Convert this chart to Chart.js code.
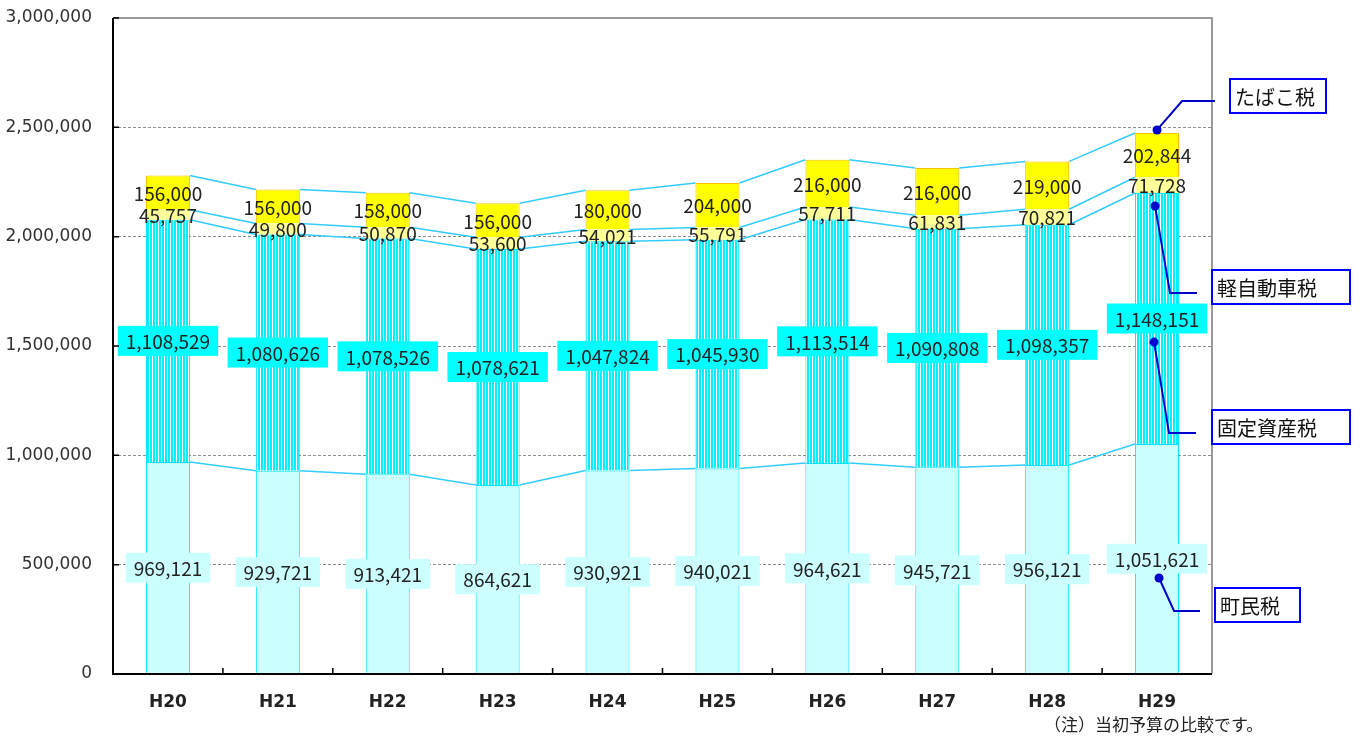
<!DOCTYPE html>
<html lang="ja">
<head>
<meta charset="utf-8">
<title>町税の推移</title>
<script src="https://cdn.jsdelivr.net/npm/chart.js@4.4.0/dist/chart.umd.min.js"></script>
<style>
  html, body { margin: 0; padding: 0; background: #fff; }
  #wrap { position: relative; width: 1360px; height: 738px; }
</style>
</head>
<body>
<div id="wrap"><canvas id="taxChart"></canvas></div>
<script>
// Data (千円)
const categories = ['H20', 'H21', 'H22', 'H23', 'H24', 'H25', 'H26', 'H27', 'H28', 'H29'];
const chominzei = [969121, 929721, 913421, 864621, 930921, 940021, 964621, 945721, 956121, 1051621];
const koteishisanzei = [1108529, 1080626, 1078526, 1078621, 1047824, 1045930, 1113514, 1090808, 1098357, 1148151];
const keijidoshazei = [45757, 49800, 50870, 53600, 54021, 55791, 57711, 61831, 70821, 71728];
const tabakozei = [156000, 156000, 158000, 156000, 180000, 204000, 216000, 216000, 219000, 202844];
const yTicks = [0, 500000, 1000000, 1500000, 2000000, 2500000, 3000000];
const footnote = '（注）当初予算の比較です。';

const numFont = '19px "Noto Sans CJK JP", "DejaVu Sans", sans-serif';
const jpFont = '20px "Noto Sans CJK JP", sans-serif';

// vertical stripe fill for 固定資産税
function stripePattern() {
    const c = document.createElement('canvas');
    c.width = 3; c.height = 8;
    const g = c.getContext('2d');
    g.fillStyle = '#ffffff';
    g.fillRect(0, 0, 3, 8);
    g.fillStyle = '#00f0ff';
    g.fillRect(0, 0, 2, 8);
    return g.createPattern(c, 'repeat');
}

// label style per dataset
const labelStyles = [
    { bg: '#ccffff' },
    { bg: '#00ffff' },
    { bg: null },
    { bg: null }
];

// series lines between bars + data labels
const seriesLabels = {
    id: 'seriesLabels',
    afterDatasetsDraw(chart) {
        const ctx = chart.ctx;
        ctx.save();
        // series lines
        ctx.strokeStyle = '#33ccff';
        ctx.lineWidth = 1.5;
        chart.data.datasets.forEach((ds, di) => {
            const bars = chart.getDatasetMeta(di).data;
            ctx.beginPath();
            for (let i = 0; i < bars.length - 1; i++) {
                const a = bars[i], b = bars[i + 1];
                ctx.moveTo(a.x + a.width / 2, a.y);
                ctx.lineTo(b.x - b.width / 2, b.y);
            }
            ctx.stroke();
        });
        // labels
        ctx.font = numFont;
        ctx.textAlign = 'center';
        ctx.textBaseline = 'middle';
        chart.data.datasets.forEach((ds, di) => {
            const bars = chart.getDatasetMeta(di).data;
            bars.forEach((bar, i) => {
                const txt = ds.data[i].toLocaleString('en-US');
                const cy = (bar.y + bar.base) / 2;
                const st = labelStyles[di];
                if (st.bg) {
                    const w = ctx.measureText(txt).width + 16;
                    ctx.fillStyle = st.bg;
                    ctx.fillRect(bar.x - w / 2, cy - 15, w, 30);
                }
                ctx.fillStyle = '#222';
                ctx.fillText(txt, bar.x, cy + 1);
            });
        });
        ctx.restore();
    }
};

// frame, inside tick marks, callouts, footnote
const frameAndNotes = {
    id: 'frameAndNotes',
    afterDraw(chart) {
        const ctx = chart.ctx;
        const a = chart.chartArea;
        const y = chart.scales.y, x = chart.scales.x;
        ctx.save();
        // gray top / right border
        ctx.strokeStyle = '#9a9a9a';
        ctx.lineWidth = 2;
        ctx.beginPath();
        ctx.moveTo(a.left, a.top); ctx.lineTo(a.right, a.top); ctx.lineTo(a.right, a.bottom);
        ctx.stroke();
        // black left / bottom axis
        ctx.strokeStyle = '#000';
        ctx.beginPath();
        ctx.moveTo(a.left, a.top); ctx.lineTo(a.left, a.bottom); ctx.lineTo(a.right, a.bottom);
        ctx.stroke();
        // inside ticks
        ctx.lineWidth = 1.5;
        ctx.beginPath();
        yTicks.forEach(v => {
            const py = y.getPixelForValue(v);
            ctx.moveTo(a.left, py); ctx.lineTo(a.left + 6, py);
        });
        for (let i = 1; i < categories.length; i++) {
            const px = (x.getPixelForValue(i - 1) + x.getPixelForValue(i)) / 2;
            ctx.moveTo(px, a.bottom); ctx.lineTo(px, a.bottom - 6);
        }
        ctx.stroke();

        // callouts on the last bar
        const last = categories.length - 1;
        const bx = chart.getDatasetMeta(3).data[last].x;
        const callouts = [
            { text: 'たばこ税', dot: [bx, chart.getDatasetMeta(3).data[last].y - 3], bend: [bx + 25, 101], end: 1215, box: [1230, 79, 96, 34] },
            { text: '軽自動車税', dot: [bx - 2, y.getPixelForValue(2140000)], bend: [bx + 13, 293], end: 1197, box: [1212, 270, 138, 34] },
            { text: '固定資産税', dot: [bx - 3, y.getPixelForValue(1518000)], bend: [bx + 12, 433], end: 1196, box: [1212, 410, 138, 34] },
            { text: '町民税', dot: [bx + 2, y.getPixelForValue(439000)], bend: [bx + 17, 611], end: 1200, box: [1215, 588, 85, 34] }
        ];
        callouts.forEach(c => {
            ctx.strokeStyle = '#0000cc';
            ctx.fillStyle = '#0000cc';
            ctx.lineWidth = 2;
            ctx.beginPath();
            ctx.moveTo(c.dot[0], c.dot[1]);
            ctx.lineTo(c.bend[0], c.bend[1]);
            ctx.lineTo(c.end, c.bend[1]);
            ctx.stroke();
            ctx.beginPath();
            ctx.arc(c.dot[0], c.dot[1], 4.5, 0, Math.PI * 2);
            ctx.fill();
            const [rx, ry, rw, rh] = c.box;
            ctx.fillStyle = '#fff';
            ctx.fillRect(rx, ry, rw, rh);
            ctx.strokeStyle = '#0000ff';
            ctx.lineWidth = 2;
            ctx.strokeRect(rx, ry, rw, rh);
            ctx.fillStyle = '#111';
            ctx.font = jpFont;
            ctx.textAlign = 'left';
            ctx.textBaseline = 'middle';
            ctx.fillText(c.text, rx + 5, ry + rh / 2 + 1);
        });

        // footnote
        ctx.fillStyle = '#222';
        ctx.font = '17px "Noto Sans CJK JP", sans-serif';
        ctx.textAlign = 'left';
        ctx.textBaseline = 'middle';
        ctx.fillText(footnote, 1044, 725);
        ctx.restore();
    }
};

const ctx = document.getElementById('taxChart').getContext('2d');
const taxChart = new Chart(ctx, {
    type: 'bar',
    data: {
        labels: categories,
        datasets: [
            { label: '町民税', data: chominzei, backgroundColor: '#ccffff', borderColor: '#00e5ff', borderWidth: 1 },
            { label: '固定資産税', data: koteishisanzei, backgroundColor: stripePattern(), borderColor: '#00e5ff', borderWidth: 1 },
            { label: '軽自動車税', data: keijidoshazei, backgroundColor: '#ffff99', borderWidth: 0 },
            { label: 'たばこ税', data: tabakozei, backgroundColor: '#ffff00', borderColor: '#ffc000', borderWidth: 1 }
        ]
    },
    options: {
        responsive: true,
        maintainAspectRatio: false,
        animation: false,
        layout: { padding: { top: 18, right: 148, left: 0, bottom: 0 } },
        plugins: {
            legend: { display: false },
            tooltip: { enabled: false }
        },
        datasets: { bar: { categoryPercentage: 1, barPercentage: 0.4 } },
        scales: {
            x: {
                stacked: true,
                grid: { display: false, drawTicks: false },
                border: { display: false },
                ticks: { color: '#222', font: { family: 'DejaVu Sans', size: 17, weight: 'bold' }, padding: 18 },
                afterFit(scale) { scale.height = 64; scale.paddingLeft = 0; scale.paddingRight = 0; }
            },
            y: {
                stacked: true,
                min: 0,
                max: 3000000,
                afterBuildTicks(scale) { scale.ticks = yTicks.map(v => ({ value: v })); },
                grid: { color: '#8c8c8c', lineWidth: 1, drawTicks: false },
                border: { display: false, dash: [3, 2] },
                ticks: {
                    color: '#333',
                    font: { family: 'DejaVu Sans', size: 17 },
                    padding: 21,
                    callback: v => v.toLocaleString('en-US')
                },
                afterFit(scale) { scale.width = 113; scale.paddingTop = 0; scale.paddingBottom = 0; }
            }
        }
    },
    plugins: [seriesLabels, frameAndNotes]
});
</script>
</body>
</html>
